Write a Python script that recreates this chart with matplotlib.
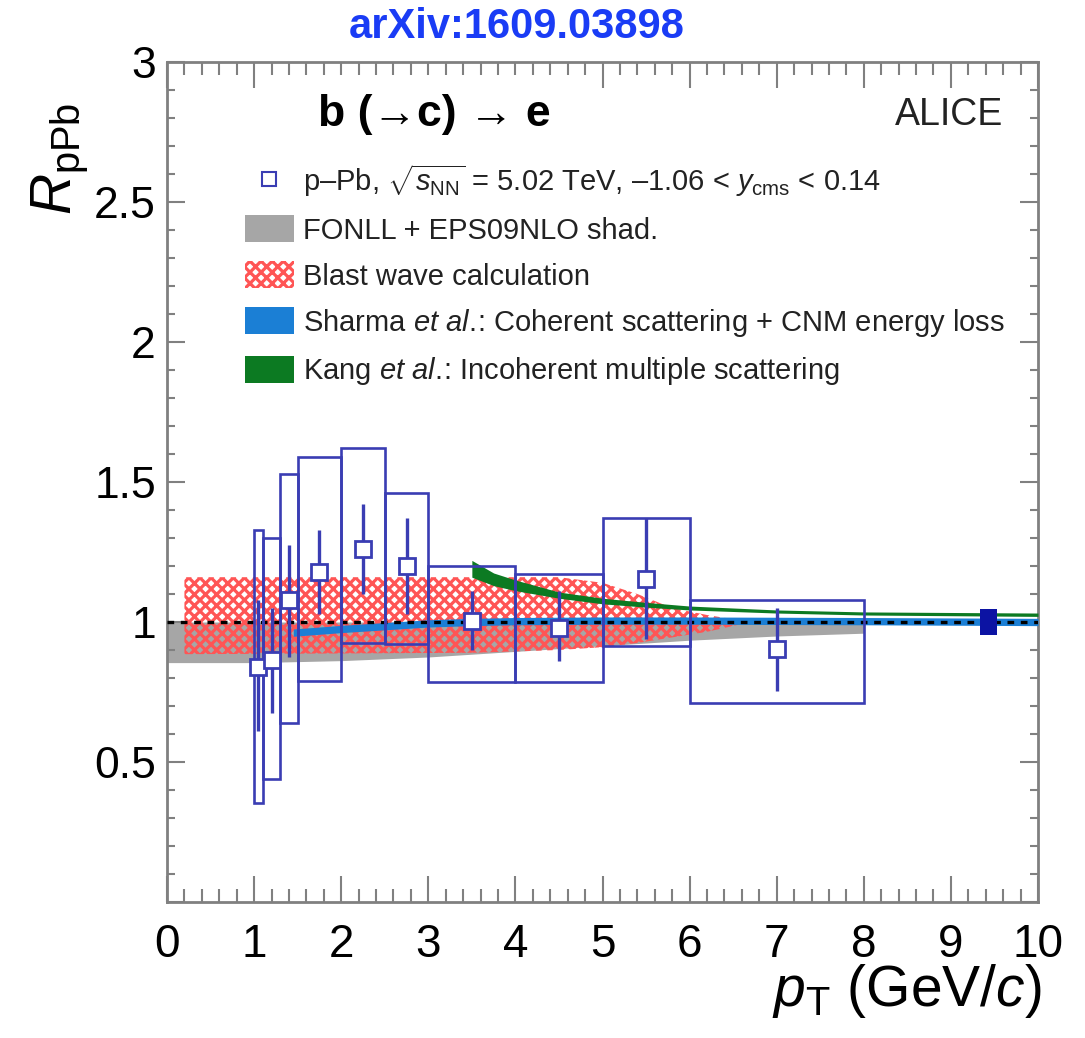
import matplotlib
matplotlib.use("Agg")
import matplotlib.pyplot as plt
from matplotlib.lines import Line2D
from matplotlib.patches import Patch
from matplotlib.ticker import MultipleLocator, FixedLocator, FixedFormatter
import numpy as np

plt.rcParams['font.family'] = ['Liberation Sans', 'DejaVu Sans']
plt.rcParams['mathtext.fontset'] = 'custom'
plt.rcParams['mathtext.rm'] = 'Liberation Sans'
plt.rcParams['mathtext.it'] = 'Liberation Sans:italic'
plt.rcParams['mathtext.bf'] = 'Liberation Sans:bold'
plt.rcParams['hatch.linewidth'] = 2.3

# ---------------- data ----------------
pt_lo = [1.0, 1.1, 1.3, 1.5, 2.0, 2.5, 3.0, 4.0, 5.0, 6.0]
pt_hi = [1.1, 1.3, 1.5, 2.0, 2.5, 3.0, 4.0, 5.0, 6.0, 8.0]
pt_center = [1.05, 1.2, 1.4, 1.75, 2.25, 2.75, 3.5, 4.5, 5.5, 7.0]
rppb = [0.84, 0.865, 1.08, 1.18, 1.26, 1.20, 1.005, 0.98, 1.155, 0.905]
stat_up = [1.08, 1.05, 1.275, 1.33, 1.42, 1.37, 1.11, 1.11, 1.37, 1.05]
stat_dn = [0.61, 0.675, 0.875, 1.03, 1.10, 1.03, 0.90, 0.86, 0.94, 0.755]
syst_up = [1.33, 1.30, 1.53, 1.59, 1.62, 1.46, 1.20, 1.17, 1.37, 1.08]
syst_dn = [0.355, 0.44, 0.64, 0.79, 0.925, 0.92, 0.785, 0.785, 0.915, 0.71]

norm_x = [9.43]
norm_lo = [0.955]
norm_hi = [1.045]

fonll_x = [0.0, 1.0, 2.0, 3.0, 4.0, 5.0, 6.0, 7.0, 8.0]
fonll_lo = [0.855, 0.855, 0.862, 0.875, 0.895, 0.915, 0.935, 0.95, 0.96]
fonll_hi = [1.0, 1.0, 1.0, 1.0, 1.0, 1.0, 1.0, 1.0, 1.0]

bw_x = [0.2, 3.5, 4.5, 5.0, 5.4, 5.8, 6.2, 6.7]
bw_hi = [1.16, 1.16, 1.16, 1.14, 1.10, 1.05, 1.025, 1.0]
bw_lo = [0.885, 0.89, 0.90, 0.91, 0.925, 0.945, 0.965, 1.0]

sharma_x = [1.45, 2.0, 2.5, 3.0, 3.5, 4.0, 5.0, 6.0, 8.0, 10.0]
sharma_c = [0.962, 0.975, 0.985, 0.995, 1.0, 1.003, 1.005, 1.005, 1.003, 1.0]
sharma_w = 0.013

kang_x = [3.5, 3.75, 4.0, 4.5, 5.0, 5.5, 6.0, 7.0, 8.0, 10.0]
kang_hi = [1.22, 1.175, 1.15, 1.107, 1.085, 1.07, 1.057, 1.043, 1.036, 1.032]
kang_lo = [1.16, 1.13, 1.112, 1.085, 1.065, 1.053, 1.043, 1.032, 1.025, 1.02]

xticks = [0, 1, 2, 3, 4, 5, 6, 7, 8, 9, 10]
yticks = [0, 0.5, 1, 1.5, 2, 2.5, 3]
ytick_labels = ['', '0.5', '1', '1.5', '2', '2.5', '3']

# ---------------- colors ----------------
c_data = '#3a3db3'
c_gray = '#a6a6a6'
c_red = '#ff5555'
c_blue = '#1b7fd5'
c_green = '#0c7a22'
c_norm = '#0c13a3'
c_frame = '#808080'

fig = plt.figure(figsize=(10.85, 10.38), dpi=100)
ax = fig.add_axes([167/1085, 136/1038, 871/1085, 840/1038])

ax.fill_between(fonll_x, fonll_lo, fonll_hi, color=c_gray, lw=0, zorder=1)
ax.fill_between(bw_x, bw_lo, bw_hi, facecolor='none', edgecolor=c_red, hatch='xxx', lw=0, zorder=2)
sc = np.array(sharma_c)
ax.fill_between(sharma_x, sc - sharma_w, sc + sharma_w, color=c_blue, lw=0, zorder=3)
ax.fill_between(kang_x, kang_lo, kang_hi, color=c_green, lw=0, zorder=3)
ax.axhline(1.0, color='black', ls=(0, (2, 2)), lw=2.4, zorder=4)

# systematic boxes
lo = np.array(pt_lo); hi = np.array(pt_hi)
su = np.array(syst_up); sd = np.array(syst_dn)
ax.bar(lo, su - sd, width=hi - lo, bottom=sd, align='edge', fill=False,
       edgecolor=c_data, lw=1.9, zorder=5)

# statistical errors + points
r = np.array(rppb)
yerr = [r - np.array(stat_dn), np.array(stat_up) - r]
ax.errorbar(pt_center, rppb, yerr=yerr, fmt='s', mfc='white', mec=c_data,
            ms=11, mew=2, ecolor=c_data, elinewidth=2.4, capsize=0, zorder=6)

# normalization uncertainty
nl = np.array(norm_lo); nh = np.array(norm_hi)
ax.bar(norm_x, nh - nl, width=0.2, bottom=nl, color=c_norm, zorder=6)

ax.set_xlim(0, 10)
ax.set_ylim(0, 3)
ax.xaxis.set_major_locator(FixedLocator(xticks))
ax.xaxis.set_minor_locator(MultipleLocator(0.2))
ax.yaxis.set_major_locator(FixedLocator(yticks))
ax.yaxis.set_major_formatter(FixedFormatter(ytick_labels))
ax.yaxis.set_minor_locator(MultipleLocator(0.1))

for s in ax.spines.values():
    s.set_color(c_frame)
    s.set_linewidth(2)
ax.tick_params(axis='x', which='major', direction='in', length=19, width=1.5,
               color=c_frame, top=True, labelsize=33, pad=15)
ax.tick_params(axis='x', which='minor', direction='in', length=9.5, width=1.5,
               color=c_frame, top=True)
ax.tick_params(axis='y', which='major', direction='in', length=13, width=1.5,
               color=c_frame, right=True, labelsize=32, pad=8)
ax.tick_params(axis='y', which='minor', direction='in', length=6, width=1.5,
               color=c_frame, right=True)

ax.set_xlabel(r'$p_{\rm T}$ (GeV/$c$)', fontsize=41, loc='right')
ax.xaxis.set_label_coords(1.004, -0.072)
ax.set_ylabel(r'$R_{\rm pPb}$', fontsize=41, loc='top')
ax.yaxis.set_label_coords(-0.088, 0.952)

ax.text(0.173, 0.937, 'b (→c) → e', transform=ax.transAxes, fontsize=32,
        fontweight='bold', ha='left', va='center', zorder=10,
        bbox=dict(facecolor='white', edgecolor='none', pad=14))
ax.text(0.96, 0.937, 'ALICE', transform=ax.transAxes, fontsize=27,
        ha='right', va='center', color='#222222')

handles = [
    Line2D([], [], marker='s', mfc='white', mec=c_data, ms=10, mew=1.5, ls='none'),
    Patch(facecolor=c_gray, edgecolor='none'),
    Patch(facecolor='white', edgecolor=c_red, hatch='xxx', lw=0),
    Patch(facecolor=c_blue, edgecolor='none'),
    Patch(facecolor=c_green, edgecolor='none'),
]
labels = [
    r'p–Pb, $\sqrt{s_{\rm NN}}$ = 5.02 TeV, –1.06 < $y_{\rm cms}$ < 0.14',
    'FONLL + EPS09NLO shad.',
    'Blast wave calculation',
    r'Sharma $et\ al.\!$: Coherent scattering + CNM energy loss',
    r'Kang $et\ al.\!$: Incoherent multiple scattering',
]
leg = ax.legend(handles, labels, loc='upper left', bbox_to_anchor=(0.09, 0.881),
                frameon=False, fontsize=21, handlelength=1.65, handleheight=1.05,
                handletextpad=0.32, labelspacing=0.56, borderpad=0, borderaxespad=0)
for t in leg.get_texts():
    t.set_color('#222222')

fig.text(517/1085, 1 - 27/1038, 'arXiv:1609.03898', color='#1a3cf5',
         fontsize=30, fontweight='bold', ha='center', va='center')

fig.savefig('out.png', dpi=100)
